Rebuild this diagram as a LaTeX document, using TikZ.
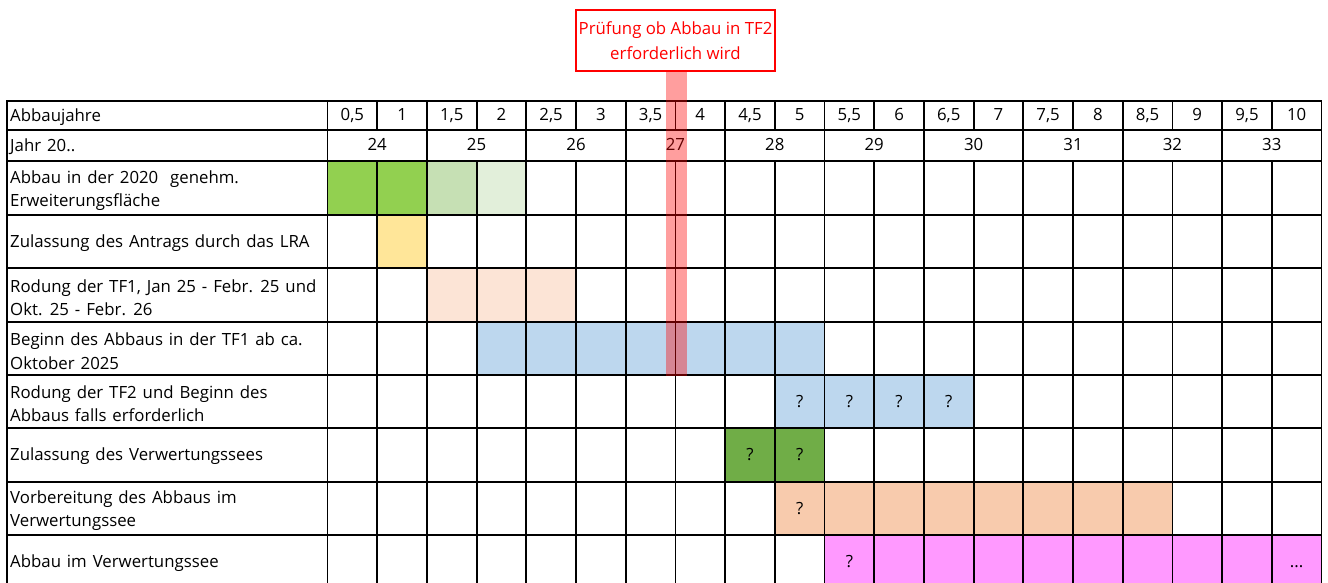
\documentclass[tikz,border=0pt]{standalone}
\usepackage{fontspec}
\setmainfont{Open Sans}
\definecolor{gA}{HTML}{92D050}
\definecolor{gB}{HTML}{C6E0B4}
\definecolor{gC}{HTML}{E2EFDA}
\definecolor{gD}{HTML}{70AD47}
\definecolor{yA}{HTML}{FFE699}
\definecolor{pA}{HTML}{FCE4D6}
\definecolor{oA}{HTML}{F8CBAD}
\definecolor{bA}{HTML}{BDD7EE}
\definecolor{mA}{HTML}{FF99FF}
\newcommand\band[5]{\fill[#1] ({327.5+49.7*(#2-1)},#4) rectangle ({327.5+49.7*#3},#5);}
\newcommand\lblfont{\fontsize{16.8}{23.5}\selectfont\spaceskip 5.9pt plus 1pt\relax}
\begin{document}
\begin{tikzpicture}[x=1pt,y=-1pt,
  gridline/.style={line width=1.8pt, line cap=rect},
  lbl/.style={anchor=west, inner sep=0pt, align=left, font=\lblfont},
  num/.style={inner sep=0pt, text height=12pt, text depth=4pt, font=\fontsize{16.8}{20}\selectfont},
  note/.style={draw=red, line width=1.8pt, fill=white, text=red, align=center, minimum width=199pt, minimum height=61pt, inner sep=0pt, font=\fontsize{16.8}{25}\selectfont}]
\useasboundingbox (0,0) rectangle (1328,583);
\fill[white] (0,0) rectangle (1328,583);
% coloured cells
\band{gA}{1}{2}{161}{215}
\band{gB}{3}{3}{161}{215}
\band{gC}{4}{4}{161}{215}
\band{yA}{2}{2}{215}{268}
\band{pA}{3}{5}{268}{322}
\band{bA}{4}{10}{322}{375}
\band{bA}{10}{13}{375}{428}
\band{gD}{9}{10}{428}{482}
\band{oA}{10}{17}{482}{535}
\band{mA}{11}{20}{535}{590}
% grid
\foreach \y in {101,130,161,215,268,322,375,428,482,535}
  \draw[gridline] (7,\y) -- (1321.5,\y);
\draw[gridline] (7,101) -- (7,590);
\draw[gridline] (327.5,101) -- (327.5,590);
\draw[gridline] (1321.5,101) -- (1321.5,590);
\foreach \i in {1,...,19} {
  \draw[gridline] ({327.5+49.7*\i},101) -- ({327.5+49.7*\i},130);
  \draw[gridline] ({327.5+49.7*\i},161) -- ({327.5+49.7*\i},590);
}
\foreach \i in {2,4,...,18}
  \draw[gridline] ({327.5+49.7*\i},130) -- ({327.5+49.7*\i},161);
% header texts
\node[lbl] (l1) at (10,117) {Abbaujahre};
\node[lbl] (l2) at (10,147) {Jahr 20..};
\foreach \t [count=\i] in {{0,5},1,{1,5},2,{2,5},3,{3,5},4,{4,5},5,{5,5},6,{6,5},7,{7,5},8,{8,5},9,{9,5},10}
  \node[num] (h\i) at ({327.5+49.7*(\i-0.5)},117) {\t};
\foreach \t [count=\i] in {24,25,26,27,28,29,30,31,32,33}
  \node[num] (j\t) at ({327.5+49.7*(2*\i-1)},147) {\t};
% row labels
\node[lbl] (l3) at (10,190.5) {Abbau in der 2020~ genehm.\\Erweiterungsfläche};
\node[lbl] (l4) at (10,243) {Zulassung des Antrags durch das LRA};
\node[lbl] (l5) at (10,297.5) {Rodung der TF1, Jan 25 - Febr. 25 und\\Okt. 25 - Febr. 26};
\node[lbl] (l6) at (10,351) {Beginn des Abbaus in der TF1 ab ca.\\Oktober 2025};
\node[lbl] (l7) at (10,403.5) {Rodung der TF2 und Beginn des\\Abbaus falls erforderlich};
\node[lbl] (l8) at (10,456.5) {Zulassung des Verwertungssees};
\node[lbl] (l9) at (10,510.5) {Vorbereitung des Abbaus im\\Verwertungssee};
\node[lbl] (l10) at (10,563.5) {Abbau im Verwertungssee};
% question marks
\foreach \c in {10,11,12,13}
  \node[num] (q7-\c) at ({327.5+49.7*(\c-0.5)},403.5) {?};
\foreach \c in {9,10}
  \node[num] (q8-\c) at ({327.5+49.7*(\c-0.5)},456.5) {?};
\node[num] (q9) at ({327.5+49.7*9.5},510.5) {?};
\node[num] (q10) at ({327.5+49.7*10.5},563.5) {?};
\node[num] (dots) at ({327.5+49.7*19.5},563.5) {...};
% marker
\node[note] (check) at (675.5,40.5) {Prüfung ob Abbau in TF2\\erforderlich wird};
\fill[red, opacity=0.38] (666,71) rectangle (687,376);
\end{tikzpicture}
\end{document}
